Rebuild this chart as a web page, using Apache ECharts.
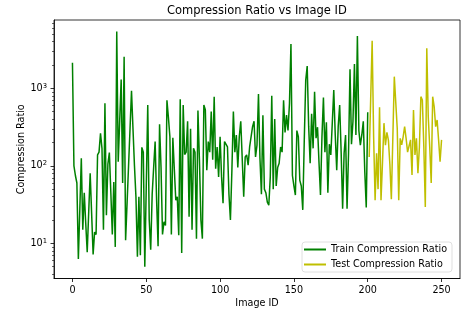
<!DOCTYPE html>
<html>
<head>
<meta charset="utf-8">
<script src="https://cdn.jsdelivr.net/npm/echarts@6/dist/echarts.min.js"></script>
<style>
  html, body { margin: 0; padding: 0; background: #fff; }
  #chart { width: 466px; height: 310px; }
</style>
</head>
<body>
<div id="chart"></div>
<script>
// values (image id starts at trainStart / testStart)
const trainStart = 0
const trainRatio = [
  2130, 100, 75, 60, 6.3, 28, 125, 15, 45, 18,
  7.7, 25, 80, 24, 7.2, 14, 13, 138, 150, 263,
  168, 15, 640, 23, 105, 148, 45, 13, 62, 9,
  5400, 113, 380, 1300, 60, 2560, 11, 33, 100, 300,
  930, 300, 100, 40, 6.7, 40, 7, 173, 150, 5,
  55, 610, 20, 8.3, 43, 95, 206, 36, 9.2, 343,
  95, 13, 19, 17, 700, 420, 237, 13, 230, 90,
  36, 40, 12.7, 720, 7.5, 610, 140, 150, 375, 22,
  300, 15, 168, 150, 11.5, 515, 120, 20, 11.5, 610,
  530, 88, 206, 150, 500, 120, 780, 92, 175, 72,
  237, 72, 33, 206, 200, 175, 43, 20, 88, 500,
  150, 250, 95, 237, 375, 375, 40, 130, 138, 102,
  175, 175, 320, 375, 130, 185, 845, 125, 43, 450,
  50, 45, 34, 31, 72, 800, 50, 400, 55, 95,
  108, 175, 150, 700, 270, 450, 285, 640, 3730, 75,
  55, 42, 285, 237, 65, 55, 27, 206, 1270, 1940,
  320, 108, 470, 168, 900, 227, 315, 110, 42, 237,
  760, 150, 365, 45, 190, 138, 360, 950, 250, 88,
  320, 610, 150, 28, 145, 250, 28, 145, 1760, 190,
  375, 2060, 250, 4730, 285, 185, 250, 375, 85, 29,
  490
]
const testStart = 201
const testRatio = [
  130, 730, 4110, 237, 36, 145, 50, 570, 36, 110,
  355, 185, 270, 215, 105, 37, 35, 1413, 1345, 300,
  36, 226, 186, 237, 320, 226, 150, 180, 216, 76,
  525, 138, 226, 80, 175, 780, 706, 175, 29.4, 3280,
  430, 175, 60, 780, 580, 320, 390, 216, 113, 216
]
const xTicks = [0, 50, 100, 150, 200, 250]
const yTicks = [10, 100, 1000]
const yMinorTicks = [4, 5, 6, 7, 8, 9, 20, 30, 40, 50, 60, 70, 80, 90,
  200, 300, 400, 500, 600, 700, 800, 900, 2000, 3000, 4000, 5000, 6000, 7000]

const font = 'DejaVu Sans'
const yMin = 3.52
const yMax = 7600

function toPairs(start, values) {
  return values.map((v, i) => [start + i, v])
}

const chart = echarts.init(document.getElementById('chart'), null, { renderer: 'canvas' })
const option = {
  animation: false,
  backgroundColor: '#fff',
  textStyle: { fontFamily: font, color: '#000' },
  title: {
    text: 'Compression Ratio vs Image ID',
    left: 167,
    top: 5,
    padding: 0,
    textStyle: { fontFamily: font, fontSize: 11.5, fontWeight: 'normal', color: '#000' }
  },
  grid: {
    left: 54, right: 6, top: 20, bottom: 31.5,
    outerBoundsMode: 'none',
    show: true, borderColor: '#000', borderWidth: 0.8
  },
  legend: {
    orient: 'vertical',
    left: 302, top: 242,
    padding: [2.5, 5, 2.5, 2],
    icon: 'rect',
    itemWidth: 22, itemHeight: 2, itemGap: 5,
    backgroundColor: 'rgba(255,255,255,0.8)',
    borderColor: '#d8d8d8', borderWidth: 0.8, borderRadius: 3,
    textStyle: { fontFamily: font, fontSize: 9.6, color: '#000', lineHeight: 10 },
    data: ['Train Compression Ratio', 'Test Compression Ratio']
  },
  xAxis: {
    type: 'value',
    min: -12.5, max: 262.5,
    name: 'Image ID',
    nameLocation: 'middle',
    nameGap: 20,
    nameMoveOverlap: false,
    nameTextStyle: { fontFamily: font, fontSize: 9.6, color: '#000' },
    splitLine: { show: false },
    axisLine: { onZero: false, lineStyle: { color: '#000', width: 0.8 } },
    axisTick: { customValues: xTicks, length: 3.5, lineStyle: { color: '#000', width: 0.8 } },
    axisLabel: { customValues: xTicks, margin: 7, fontFamily: font, fontSize: 9.6, color: '#000' }
  },
  yAxis: [{
    type: 'log',
    min: yMin, max: yMax,
    name: 'Compression Ratio',
    nameLocation: 'middle',
    nameGap: 28,
    nameMoveOverlap: false,
    nameTextStyle: { fontFamily: font, fontSize: 9.6, color: '#000' },
    splitLine: { show: false },
    axisLine: { onZero: false, lineStyle: { color: '#000', width: 0.8 } },
    axisTick: { customValues: yTicks, length: 3.5, lineStyle: { color: '#000', width: 0.8 } },
    axisLabel: {
      customValues: yTicks,
      margin: 7,
      formatter: v => '{b|10}{s|' + Math.round(Math.log10(v)) + '}',
      rich: {
        b: { fontFamily: font, fontSize: 9.6, color: '#000' },
        s: { fontFamily: font, fontSize: 6.8, color: '#000', verticalAlign: 'top', padding: [0, 0, 5, 0] }
      }
    }
  }, {
    type: 'log',
    min: yMin, max: yMax,
    position: 'left',
    splitLine: { show: false },
    axisLine: { show: false, onZero: false },
    axisTick: { customValues: yMinorTicks, length: 2, lineStyle: { color: '#000', width: 0.6 } },
    axisLabel: { show: false }
  }],
  series: [{
    name: 'Train Compression Ratio',
    type: 'line',
    yAxisIndex: 0,
    data: toPairs(trainStart, trainRatio),
    symbol: 'none',
    color: '#008000',
    lineStyle: { color: '#008000', width: 1.5 }
  }, {
    name: 'Test Compression Ratio',
    type: 'line',
    yAxisIndex: 0,
    data: toPairs(testStart, testRatio),
    symbol: 'none',
    color: '#bfbf00',
    lineStyle: { color: '#bfbf00', width: 1.5 }
  }]
}
chart.setOption(option)
</script>
</body>
</html>
